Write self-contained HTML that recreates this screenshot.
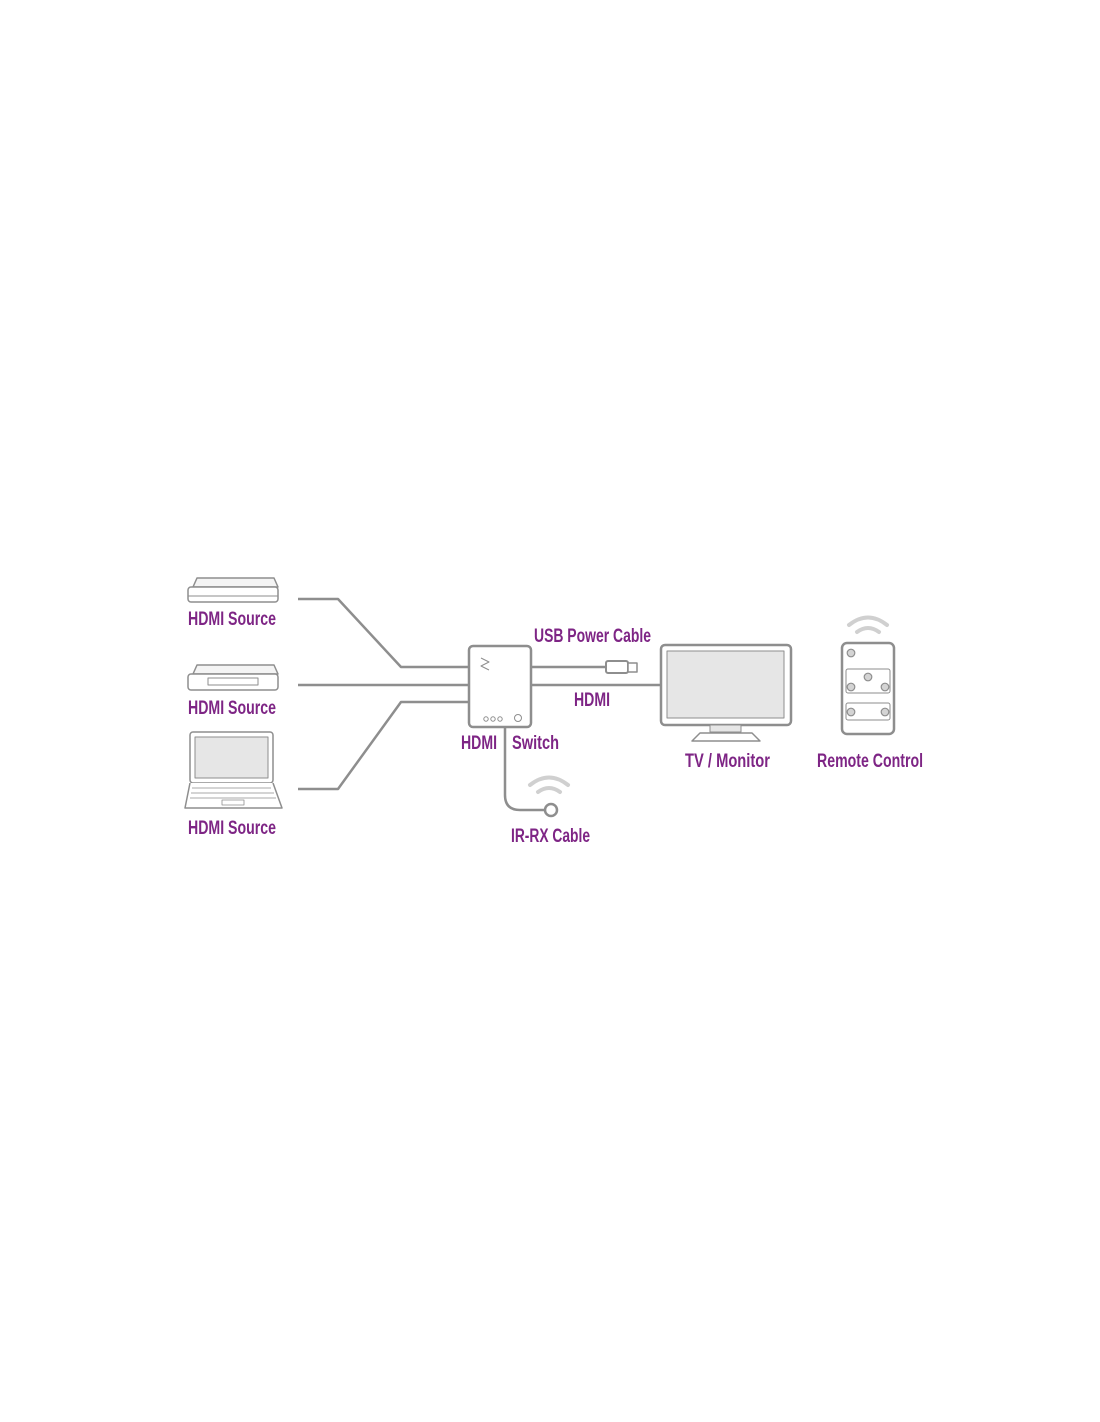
<!DOCTYPE html>
<html><head><style>
html,body{margin:0;padding:0;background:#fff;}
svg{display:block;}
text{font-family:"Liberation Sans",sans-serif;font-weight:bold;fill:#7e2585;font-size:19px;}
</style></head><body>
<svg width="1100" height="1422" viewBox="0 0 1100 1422" xmlns="http://www.w3.org/2000/svg">
<g fill="none" stroke="#8e8e8e" stroke-width="2.5" stroke-linejoin="round">
<!-- device 1 -->
<path d="M193 587 L197 578 L274 578 L278 587 Z" fill="#f4f4f4" stroke-width="1.5"/>
<rect x="188" y="587" width="90" height="15" rx="3" fill="#fff" stroke-width="1.5"/>
<line x1="188" y1="596" x2="278" y2="596" stroke-width="1"/>
<!-- device 2 -->
<path d="M193 674 L197 665 L274 665 L278 674 Z" fill="#f4f4f4" stroke-width="1.5"/>
<rect x="188" y="674" width="90" height="16" rx="3" fill="#fff" stroke-width="1.5"/>
<rect x="208" y="678" width="50" height="7" stroke-width="1"/>
<!-- laptop -->
<rect x="190" y="732" width="83" height="51" rx="3" fill="#fff" stroke-width="1.5"/>
<rect x="195" y="737" width="73" height="41" fill="#e6e6e6" stroke-width="1"/>
<path d="M190 783 L185 808 L282 808 L273 783" fill="#fff" stroke-width="1.5"/>
<path d="M192 788 L271 788 M191 793 L274 793 M190 798 L276 798" stroke-width="0.8"/>
<rect x="222" y="800" width="22" height="5" stroke-width="0.8"/>
<!-- cables -->
<polyline points="298,599 338,599 401,667 469,667"/>
<line x1="298" y1="685" x2="469" y2="685"/>
<polyline points="298,789 338,789 401,702 469,702"/>
<line x1="531" y1="667" x2="606" y2="667"/>
<line x1="531" y1="685" x2="661" y2="685"/>
<rect x="606" y="661" width="22" height="12" rx="2" fill="#fff" stroke-width="2"/>
<rect x="628" y="663" width="9" height="9" fill="#fff" stroke-width="1.5"/>
<path d="M505 727 L505 795 Q505 810 520 810 L545 810"/>
<circle cx="551" cy="810" r="6" fill="#fff"/>
<!-- switch -->
<rect x="469" y="646" width="62" height="81" rx="4" fill="#fff"/>
<circle cx="486" cy="719" r="2.2" stroke-width="1"/>
<circle cx="493" cy="719" r="2.2" stroke-width="1"/>
<circle cx="500" cy="719" r="2.2" stroke-width="1"/>
<circle cx="518" cy="718" r="3.5" stroke-width="1"/>
<path d="M481 658 L489 662 L481 666 L489 670" stroke-width="1"/>
<!-- monitor -->
<rect x="661" y="645" width="130" height="80" rx="4" fill="#fff"/>
<rect x="667" y="651" width="117" height="67" fill="#e6e6e6" stroke-width="1"/>
<rect x="710" y="725" width="31" height="7" fill="#e6e6e6" stroke-width="1"/>
<path d="M700 733 L752 733 L760 741 L692 741 Z" fill="#fff" stroke-width="1.5"/>
<!-- remote -->
<rect x="842" y="643" width="52" height="91" rx="5" fill="#fff"/>
<rect x="846" y="669" width="44" height="24" rx="2" stroke-width="1"/>
<rect x="846" y="703" width="44" height="17" rx="2" stroke-width="1"/>
<g fill="#d4d4d4" stroke-width="1.2">
<circle cx="851" cy="653" r="3.8"/><circle cx="868" cy="677" r="3.8"/>
<circle cx="851" cy="687" r="3.8"/><circle cx="885" cy="687" r="3.8"/>
<circle cx="851" cy="712" r="3.8"/><circle cx="885" cy="712" r="3.8"/>
</g>
</g>
<!-- wifi arcs -->
<g fill="none" stroke="#d0d0d0" stroke-width="4" stroke-linecap="round">
<path d="M849 625 Q868 610 887 625"/>
<path d="M857 632 Q868 624 879 632"/>
<path d="M530 785 Q549 770 568 785"/>
<path d="M538 792 Q549 784 560 792"/>
</g>
<text x="188" y="625" textLength="88" lengthAdjust="spacingAndGlyphs">HDMI Source</text>
<text x="188" y="714" textLength="88" lengthAdjust="spacingAndGlyphs">HDMI Source</text>
<text x="188" y="834" textLength="88" lengthAdjust="spacingAndGlyphs">HDMI Source</text>
<text x="534" y="642" textLength="117" lengthAdjust="spacingAndGlyphs">USB Power Cable</text>
<text x="574" y="706" textLength="36" lengthAdjust="spacingAndGlyphs">HDMI</text>
<text x="461" y="749" textLength="36" lengthAdjust="spacingAndGlyphs">HDMI</text>
<text x="512" y="749" textLength="47" lengthAdjust="spacingAndGlyphs">Switch</text>
<text x="511" y="842" textLength="79" lengthAdjust="spacingAndGlyphs">IR-RX Cable</text>
<text x="685" y="767" textLength="85" lengthAdjust="spacingAndGlyphs">TV / Monitor</text>
<text x="817" y="767" textLength="106" lengthAdjust="spacingAndGlyphs">Remote Control</text>
</svg>
</body></html>
